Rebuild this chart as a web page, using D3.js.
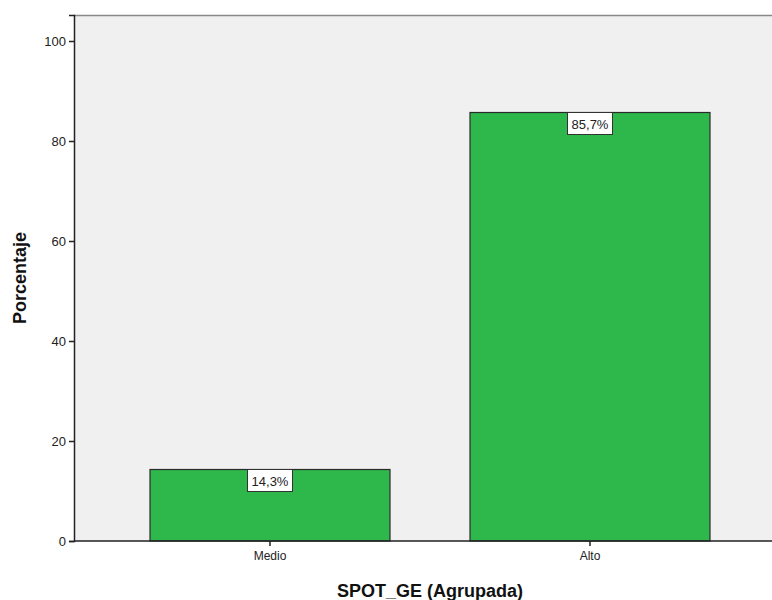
<!DOCTYPE html>
<html><head><meta charset="utf-8">
<script src="https://cdn.jsdelivr.net/npm/d3@7"></script>
<style>body{margin:0;background:#fff}</style>
</head><body>
<script>
const categories = ["Medio", "Alto"];
const values = [14.3, 85.7];
const labels = ["14,3%", "85,7%"];
const yTicks = [0, 20, 40, 60, 80, 100];

(function () {
const W = 772, H = 600;
const pL = 74, pT = 15, pB = 541;
const svg = d3.select("body").append("svg").attr("width", W).attr("height", H)
  .style("font-family", "Arial, 'Liberation Sans', sans-serif");

const y = d3.scaleLinear().domain([0, 105.2]).range([pB, pT]);
const x = d3.scaleBand().domain(categories).range([110, 750]).paddingInner(0.25).paddingOuter(0.125);

svg.append("rect").attr("x", pL).attr("y", pT).attr("width", W - pL).attr("height", pB - pT)
  .attr("fill", "#f0f0f0");
svg.append("line").attr("x1", pL).attr("x2", W).attr("y1", pT + 0.5).attr("y2", pT + 0.5)
  .attr("stroke", "#888").attr("stroke-width", 1.5);

svg.selectAll("rect.bar").data(values).enter().append("rect").attr("class", "bar")
  .attr("x", (d, i) => x(categories[i]))
  .attr("y", d => y(d))
  .attr("width", x.bandwidth())
  .attr("height", d => y(0) - y(d))
  .attr("fill", "#2eb84b").attr("stroke", "#2a2a2a").attr("stroke-width", 1.2);

const yAxis = svg.append("g").attr("transform", `translate(${pL},0)`)
  .call(d3.axisLeft(y).tickValues(yTicks).tickSize(5).tickPadding(3));
yAxis.select(".domain").attr("stroke", "#222").attr("stroke-width", 1.5);
yAxis.selectAll(".tick line").attr("stroke", "#222").attr("stroke-width", 1.5);
yAxis.selectAll("text").attr("font-size", 13).attr("fill", "#222");

const xAxis = svg.append("g").attr("transform", `translate(0,${pB})`)
  .call(d3.axisBottom(x).tickSize(5).tickPadding(5));
xAxis.select(".domain").remove();
svg.append("line").attr("x1", pL).attr("x2", W).attr("y1", pB).attr("y2", pB)
  .attr("stroke", "#222").attr("stroke-width", 1.5);
xAxis.selectAll(".tick line").attr("stroke", "#222").attr("stroke-width", 1.5);
xAxis.selectAll("text").attr("font-size", 12).attr("fill", "#222");

const lab = svg.selectAll("g.lab").data(values).enter().append("g").attr("class", "lab")
  .attr("transform", (d, i) => `translate(${x(categories[i]) + x.bandwidth() / 2},${y(d)})`);
lab.append("rect").attr("x", -22.5).attr("y", 0).attr("width", 45).attr("height", 22)
  .attr("fill", "#fff").attr("stroke", "#333").attr("stroke-width", 1);
lab.append("text").attr("x", 0).attr("y", 16).attr("text-anchor", "middle")
  .attr("font-size", 13).attr("fill", "#222").text((d, i) => labels[i]);

svg.append("text").attr("transform", `translate(26,${(pT + pB) / 2}) rotate(-90)`)
  .attr("text-anchor", "middle").attr("font-size", 18).attr("font-weight", "bold").attr("fill", "#111")
  .text("Porcentaje");
svg.append("text").attr("x", 430).attr("y", 597).attr("text-anchor", "middle")
  .attr("font-size", 18).attr("font-weight", "bold").attr("fill", "#111")
  .text("SPOT_GE (Agrupada)");
})();
</script>
</body></html>
